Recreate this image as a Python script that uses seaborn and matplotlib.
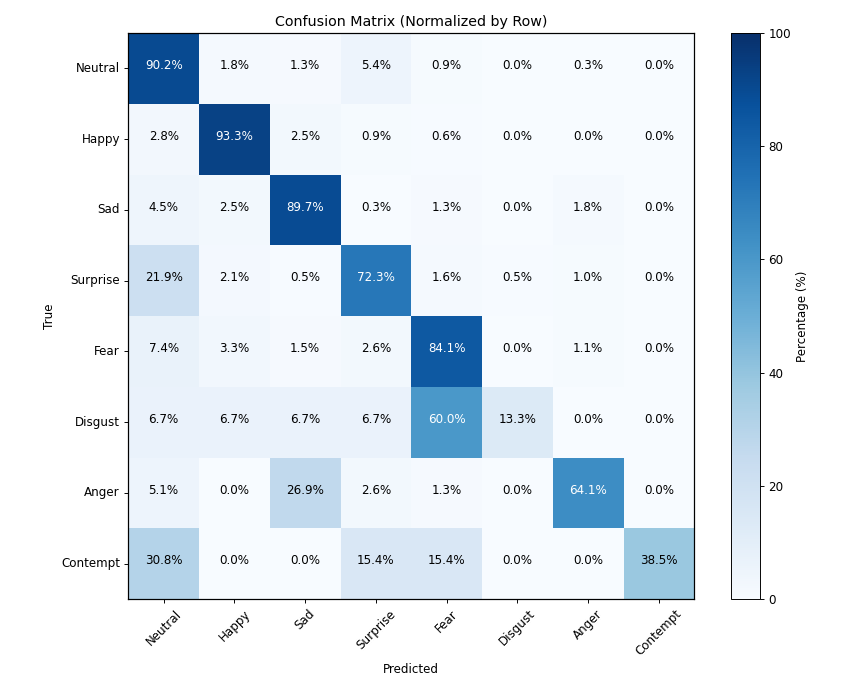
import numpy as np
import pandas as pd
import matplotlib
matplotlib.use("Agg")
import matplotlib.pyplot as plt
import seaborn as sns

# Class names (rows = true, columns = predicted)
classes = ["Neutral", "Happy", "Sad", "Surprise", "Fear", "Disgust", "Anger", "Contempt"]

# Row-normalized percentages
row_neutral = [90.2, 1.8, 1.3, 5.4, 0.9, 0.0, 0.3, 0.0]
row_happy = [2.8, 93.3, 2.5, 0.9, 0.6, 0.0, 0.0, 0.0]
row_sad = [4.5, 2.5, 89.7, 0.3, 1.3, 0.0, 1.8, 0.0]
row_surprise = [21.9, 2.1, 0.5, 72.3, 1.6, 0.5, 1.0, 0.0]
row_fear = [7.4, 3.3, 1.5, 2.6, 84.1, 0.0, 1.1, 0.0]
row_disgust = [6.7, 6.7, 6.7, 6.7, 60.0, 13.3, 0.0, 0.0]
row_anger = [5.1, 0.0, 26.9, 2.6, 1.3, 0.0, 64.1, 0.0]
row_contempt = [30.8, 0.0, 0.0, 15.4, 15.4, 0.0, 0.0, 38.5]

cm = pd.DataFrame(
    [row_neutral, row_happy, row_sad, row_surprise,
     row_fear, row_disgust, row_anger, row_contempt],
    index=classes, columns=classes,
)
labels = cm.map(lambda v: f"{v:.1f}%")

# the original looks like a 10x8 figure shrunk to 854 px wide
scale = 0.854
fs = 10 * scale

fig = plt.figure(figsize=(8.54, 6.85), dpi=100)
ax = fig.add_axes([0.1502, 0.1255, 0.6628, 0.8263])
cax = fig.add_axes([0.856, 0.1255, 0.034, 0.8263])

sns.heatmap(cm, ax=ax, cbar_ax=cax, cmap="Blues", vmin=0, vmax=100,
            annot=labels, fmt="", annot_kws={"fontsize": fs},
            cbar_kws={"ticks": [0, 20, 40, 60, 80, 100]})

# text color: white on dark cells, nudged slightly up like the original
for txt, v in zip(ax.texts, cm.values.flatten()):
    txt.set_color("white" if v > 50 else "black")
    x, y = txt.get_position()
    txt.set_position((x, y - 0.04))

for sp in ax.spines.values():
    sp.set_visible(True)
    sp.set_linewidth(0.8 * scale + 0.2)
    sp.set_color("black")
cbar = ax.collections[0].colorbar
cbar.outline.set_visible(True)
cbar.outline.set_linewidth(0.8 * scale)
cbar.set_label("Percentage (%)", fontsize=fs, labelpad=4 * scale)
cax.tick_params(labelsize=fs, length=3.5 * scale, width=0.8 * scale, pad=3.5 * scale)

ax.set_title("Confusion Matrix (Normalized by Row)", fontsize=12 * scale, pad=6 * scale)
ax.set_xlabel("Predicted", fontsize=fs, labelpad=4 * scale)
ax.set_ylabel("True", fontsize=fs, labelpad=4 * scale)
ax.set_xticklabels(classes, rotation=45, fontsize=fs)
ax.set_yticklabels(classes, rotation=0, fontsize=fs)
ax.tick_params(length=3.5 * scale, width=0.8 * scale, pad=3.5 * scale)

fig.savefig("out.png", dpi=100)
